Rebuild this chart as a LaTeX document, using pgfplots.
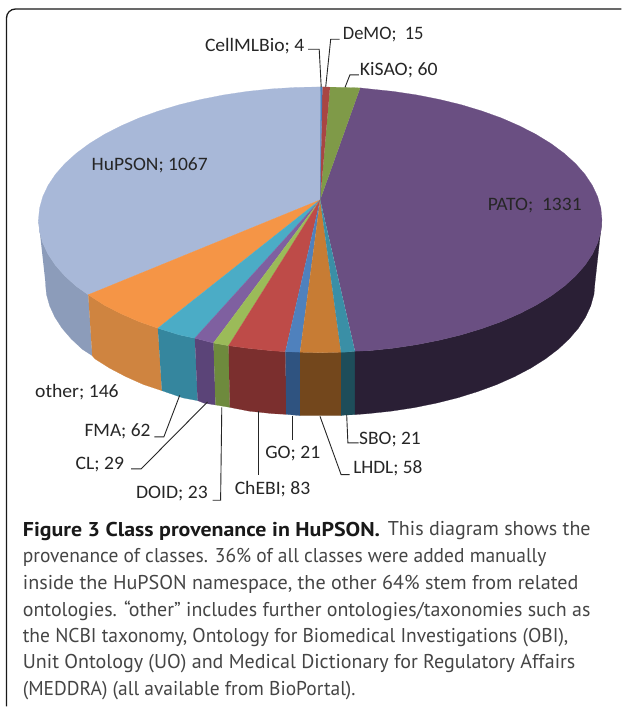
\documentclass[border=0pt]{standalone}
\usepackage{graphicx}
\usepackage{pgfplots}
\pgfplotsset{compat=1.18}
\usepackage{fontspec}
\setmainfont{PT Sans}
\newfontfamily\lab{Carlito}
\definecolor{cHu}{HTML}{A8B8D8}
\definecolor{cHuS}{HTML}{8C9CBA}
\definecolor{cPA}{HTML}{6A4F82}
\definecolor{cPAS}{HTML}{2A1F35}
\definecolor{cKi}{HTML}{7F9A48}
\definecolor{cDe}{HTML}{A84643}
\definecolor{cCe}{HTML}{4A7EBB}
\definecolor{cOt}{HTML}{F59546}
\definecolor{cOtS}{HTML}{CF8440}
\definecolor{cFM}{HTML}{4BACC6}
\definecolor{cFMS}{HTML}{35869E}
\definecolor{cCL}{HTML}{7F60A0}
\definecolor{cCLS}{HTML}{5B4478}
\definecolor{cDO}{HTML}{9BBB59}
\definecolor{cDOS}{HTML}{6E8A3D}
\definecolor{cCh}{HTML}{BE4B48}
\definecolor{cChS}{HTML}{7B2F2E}
\definecolor{cGO}{HTML}{4F81BD}
\definecolor{cGOS}{HTML}{2F5380}
\definecolor{cLH}{HTML}{C77C34}
\definecolor{cLHS}{HTML}{73471C}
\definecolor{cSB}{HTML}{3A8FA6}
\definecolor{cSBS}{HTML}{1E4D5A}
\definecolor{capg}{HTML}{454545}
\pgfplotsset{slice/.style={draw=#1,fill=#1,line width=0.2pt,forget plot},
 lead/.style={draw=black!85,line width=0.9pt,forget plot}}
\newcommand{\lb}[4]{\node[anchor=west,inner sep=0pt,font=\lab\fontsize{19}{22}\selectfont,text=black!85] at (axis cs:#1,#2) {\resizebox{#3pt}{\height}{#4}};}
\newcommand{\cp}[3]{\node[anchor=west,inner sep=0pt,font=\fontsize{20}{24}\selectfont,text=capg] at (axis cs:22.7,#1) {\resizebox{#2pt}{\height}{#3}};}
\begin{document}
\begin{tikzpicture}
\begin{axis}[scale only axis,width=624pt,height=707pt,xmin=0,xmax=624,ymin=0,ymax=707,y dir=reverse,hide axis,clip=false]
\addplot[draw=none,fill=white,forget plot] coordinates {(0,0)(624,0)(624,707)(0,707)};
% frame
\addplot[draw=black!90,line width=1.3pt,rounded corners=9pt,forget plot] coordinates {(6.5,707)(6.5,9)(622,9)};
% sides
\addplot[slice=cHuS] coordinates {(38.5,220)(39.6,231.6)(42.8,243.1)(48.1,254.4)(55.5,265.5)(64.9,276.2)(76.3,286.5)(88.3,295)(92.3,356)(82.3,349.5)(71.3,339.2)(62.1,328.5)(54.9,317.4)(49.7,306.1)(46.5,294.6)(45.5,283)};
\addplot[slice=cOtS] coordinates {(88.3,295)(104.5,305.5)(121.1,314)(139.2,321.9)(158,328.5)(162,391)(143.7,384.9)(126,377)(109.8,368.5)(95.2,359.3)(92.3,356)};
\addplot[slice=cFMS] coordinates {(158,328.5)(179.5,335.2)(195,338.5)(197.8,401)(183,398.2)(162,391)};
\addplot[slice=cCLS] coordinates {(195,338.5)(213.7,343.3)(215.7,405.3)(204.3,403.5)(197.8,401)};
\addplot[slice=cDOS] coordinates {(213.7,343.3)(228.8,346)(230,407.7)(215.7,405.3)};
\addplot[slice=cChS] coordinates {(228.8,346)(247.5,348.5)(271.5,351)(285.7,352)(286.5,414.7)(272.8,414)(249.3,411.5)(230,407.7)};
\addplot[slice=cGOS] coordinates {(285.7,352)(300.4,352.5)(300.4,416)(286.5,414.7)};
\addplot[slice=cLHS] coordinates {(300.4,352.5)(320.5,353)(341.4,352.5)(341.4,416)(320.5,416)(300.4,416)};
\addplot[slice=cSBS] coordinates {(341.4,352.5)(345.1,352.5)(355.3,351.5)(355.3,415)(344.5,415.5)(341.4,416)};
\addplot[slice=cPAS] coordinates {(355.3,351.5)(369.5,351)(393.5,348.5)(416.9,345)(439.7,340.5)(461.5,335.2)(482.3,328.9)(501.8,321.9)(519.9,314)(536.5,305.5)(551.5,296.3)(564.7,286.5)(576.1,276.2)(585.5,265.5)(592.9,254.4)(598.2,243.1)(601.4,231.6)(602.5,220)(595.5,283)(594.5,294.6)(591.3,306.1)(586.1,317.4)(578.9,328.5)(569.7,339.2)(558.7,349.5)(545.8,359.3)(531.2,368.5)(515,377)(497.3,384.9)(478.2,391.9)(458,398.2)(436.7,403.5)(414.6,408)(391.7,411.5)(368.2,414)(355.3,415)};
% top faces
\addplot[slice=cHu] coordinates {(320.5,200)(88.3,295)(76.3,286.5)(64.9,276.2)(55.5,265.5)(48.1,254.4)(42.8,243.1)(39.6,231.6)(38.5,220)(39.6,208.4)(42.8,196.9)(48.1,185.6)(55.5,174.5)(64.9,163.8)(76.3,153.5)(89.5,143.7)(104.5,134.5)(121.1,126)(139.2,118.1)(158.7,111.1)(179.5,104.8)(201.3,99.5)(224.1,95)(247.5,91.5)(271.5,89)(295.9,87.5)(320.7,87)};
\addplot[slice=cPA] coordinates {(320.5,200)(360.5,88)(369.5,89)(393.5,91.5)(416.9,95)(439.7,99.5)(461.5,104.8)(482.3,111.1)(501.8,118.1)(519.9,126)(536.5,134.5)(551.5,143.7)(564.7,153.5)(576.1,163.8)(585.5,174.5)(592.9,185.6)(598.2,196.9)(601.4,208.4)(602.5,220)(601.4,231.6)(598.2,243.1)(592.9,254.4)(585.5,265.5)(576.1,276.2)(564.7,286.5)(551.5,296.3)(536.5,305.5)(519.9,314)(501.8,321.9)(482.3,328.9)(461.5,335.2)(439.7,340.5)(416.9,345)(393.5,348.5)(369.5,351)(355.3,351.5)};
\addplot[slice=cKi] coordinates {(320.5,200)(330.3,87.2)(345.1,87.5)(360.5,88)};
\addplot[slice=cDe] coordinates {(320.5,200)(322.7,87)(330.3,87.2)};
\addplot[slice=cCe] coordinates {(320.5,200)(320.7,87)(322.7,87)};
\addplot[slice=cOt] coordinates {(320.5,200)(88.3,295)(104.5,305.5)(121.1,314)(139.2,321.9)(158,328.5)};
\addplot[slice=cFM] coordinates {(320.5,200)(158,328.5)(179.5,335.2)(195,338.5)};
\addplot[slice=cCL] coordinates {(320.5,200)(195,338.5)(213.7,343.3)};
\addplot[slice=cDO] coordinates {(320.5,200)(213.7,343.3)(228.8,346)};
\addplot[slice=cCh] coordinates {(320.5,200)(228.8,346)(247.5,348.5)(271.5,351)(285.7,352)};
\addplot[slice=cGO] coordinates {(320.5,200)(285.7,352)(300.4,352.5)};
\addplot[slice=cLH] coordinates {(320.5,200)(300.4,352.5)(320.5,353)(341.4,352.5)};
\addplot[slice=cSB] coordinates {(320.5,200)(341.4,352.5)(345.1,352.5)(355.3,351.5)};
% leaders
\addplot[lead] coordinates {(308.4,49.3)(319.5,49.3)(321.5,87)};
\addplot[lead] coordinates {(340,39.3)(331,39.3)(326,87)};
\addplot[lead] coordinates {(359.3,75)(350.2,75)(345.4,87.3)};
\addplot[lead] coordinates {(154.4,437.3)(164,437.3)(179.9,395.7)};
\addplot[lead] coordinates {(131.3,469.3)(141.3,469.3)(207.7,402.3)};
\addplot[lead] coordinates {(212.9,500.7)(220.8,500.7)(222,407.7)};
\addplot[lead] coordinates {(258.7,411.7)(258.7,475)};
\addplot[lead] coordinates {(292.5,416)(292.5,440.7)};
\addplot[lead] coordinates {(350,475)(341.4,475)(320.3,416.7)};
\addplot[lead] coordinates {(359,443.3)(348.2,443.3)(347,415)};
% labels
\lb{205}{46.5}{99.4}{CellMLBio; 4}
\lb{343}{35}{80.8}{DeMO;\ \ 15}
\lb{360}{70}{77.7}{KiSAO; 60}
\lb{91.5}{165}{116.2}{HuPSON; 1067}
\lb{488}{206}{94}{PATO;\ \ 1331}
\lb{35}{392.3}{83.6}{other; 146}
\lb{84.4}{431.7}{66}{FMA; 62}
\lb{75.6}{465}{48.4}{CL; 29}
\lb{136}{494}{71.7}{DOID; 23}
\lb{234.8}{490}{75.6}{ChEBI; 83}
\lb{265.4}{454.3}{54.9}{GO; 21}
\lb{353.4}{469}{69.2}{LHDL; 58}
\lb{359.3}{440}{61.7}{SBO; 21}
% caption
\cp{531.5}{357.5}{\textcolor{black!90}{\textbf{Figure 3 Class provenance in HuPSON.}}}
\node[anchor=west,inner sep=0pt,font=\fontsize{20}{24}\selectfont,text=capg] at (axis cs:388,531.5) {\resizebox{203pt}{\height}{This diagram shows the}};
\cp{558}{524}{provenance of classes. 36\% of all classes were added manually}
\cp{584.5}{556}{inside the HuPSON namespace, the other 64\% stem from related}
\cp{611.5}{568}{ontologies. “other” includes further ontologies/taxonomies such as}
\cp{638}{546}{the NCBI taxonomy, Ontology for Biomedical Investigations (OBI),}
\cp{664.5}{553}{Unit Ontology (UO) and Medical Dictionary for Regulatory Affairs}
\cp{691}{333}{(MEDDRA) (all available from BioPortal).}
\end{axis}
\end{tikzpicture}
\end{document}
